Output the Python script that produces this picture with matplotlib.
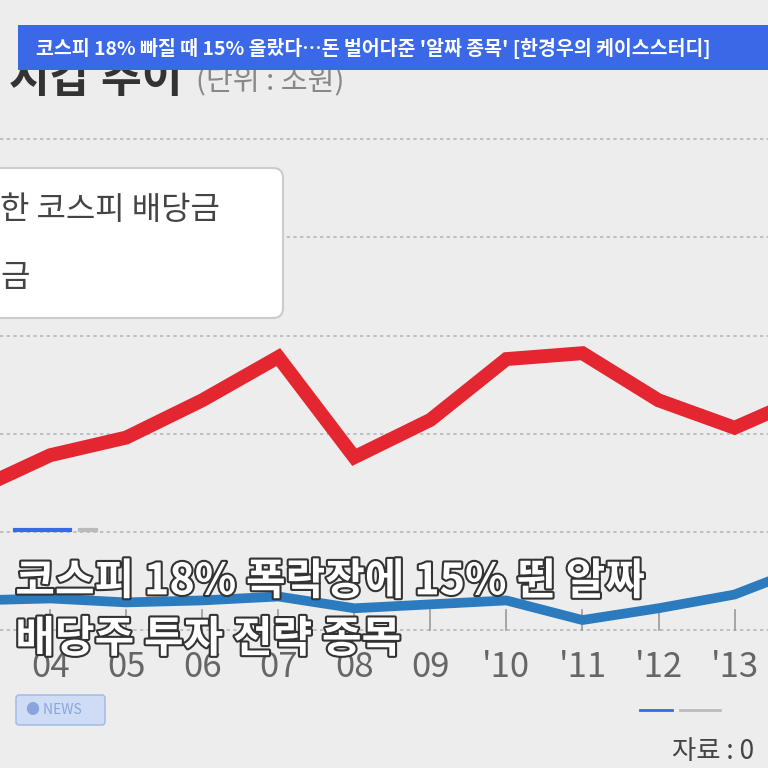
import matplotlib
matplotlib.use("Agg")
import matplotlib.pyplot as plt
import matplotlib.patheffects as pe
from matplotlib.patches import FancyBboxPatch, Rectangle

plt.rcParams['font.family'] = ['Noto Sans CJK KR', 'DejaVu Sans']

years = [2003, 2004, 2005, 2006, 2007, 2008, 2009, 2010, 2011, 2012, 2013, 2014]
tick_years = [2004, 2005, 2006, 2007, 2008, 2009, 2010, 2011, 2012, 2013]
tick_labels = ["04", "05", "06", "07", "08", "09", "'10", "'11", "'12", "'13"]
dividend_red = [7.1, 8.9, 9.8, 11.7, 13.9, 8.8, 10.7, 13.8, 14.1, 11.7, 10.3, 12.0]
dividend_blue = [1.5, 1.6, 1.4, 1.5, 1.7, 1.1, 1.3, 1.5, 0.5, 1.1, 1.8, 3.3]
grid_levels = [0, 5, 10, 15, 20, 25]

banner = "코스피 18% 빠질 때 15% 올랐다…돈 벌어다준 '알짜 종목' [한경우의 케이스스터디]"
headline = ["코스피 18% 폭락장에 15% 뛴 알짜", "배당주 투자 전략 종목"]

fig = plt.figure(figsize=(7.68, 7.68), dpi=100)
fig.patch.set_facecolor('#ededed')
ax = fig.add_axes([0, 0, 1, 1])
ax.set_facecolor('#ededed')
ax.set_xlim(2003.34, 2013.44)
ax.set_ylim(-7.04, 32.1)
ax.axis('off')

for g in grid_levels:
    ax.axhline(g, color='#b8b8b8', lw=1.2, ls=(0, (2, 2)), zorder=1)
for t in tick_years:
    ax.plot([t, t], [0, 1.0], color='#999999', lw=1.2, zorder=1)
for t, lab in zip(tick_years, tick_labels):
    ax.text(t, -1.9, lab, ha='center', va='center', fontsize=25, color='#666666', zorder=2)

ax.plot(years, dividend_red, color='#e3262f', lw=10, solid_joinstyle='miter', zorder=3)
ax.plot(years, dividend_blue, color='#2c7bbf', lw=7, zorder=3)

# cut chart title
fig.text(0.012, 0.897, "시갑 추이", fontsize=32, fontweight='bold', color='#333333', va='center')
fig.text(0.255, 0.893, "(단위 : 조원)", fontsize=21, color='#888888', va='center')

# legend box
fig.patches.append(FancyBboxPatch((-20, 450), 303, 150, boxstyle="round,pad=0,rounding_size=10",
                                  transform=None, fc='white', ec='#cccccc', lw=1.5, zorder=4))
fig.text(0.0, 0.727, "한 코스피 배당금", fontsize=23, color='#444444', va='center', zorder=5)
fig.text(0.0, 0.638, "금", fontsize=23, color='#444444', va='center', zorder=5)

# banner
fig.patches.append(Rectangle((18, 698), 760, 45, transform=None, fc='#3b68e6', ec='none', zorder=6))
fig.text(0.047, 0.937, banner, fontsize=14, fontweight='bold', color='white', va='center', zorder=7)

# headline
for i, line in enumerate(headline):
    fig.text(0.02, 0.243 - i * 0.075, line, fontsize=31, fontweight='bold', color='white', va='center',
             zorder=8, path_effects=[pe.withStroke(linewidth=3, foreground='#333333')])

# indicators
fig.add_artist(plt.Line2D([15 / 768, 70 / 768], [238 / 768, 238 / 768], color='#3b68e6', lw=3, zorder=8))
fig.add_artist(plt.Line2D([80 / 768, 96 / 768], [238 / 768, 238 / 768], color='#bbbbbb', lw=3, zorder=8))
fig.add_artist(plt.Line2D([640 / 768, 672 / 768], [58 / 768, 58 / 768], color='#3b68e6', lw=2, zorder=8))
fig.add_artist(plt.Line2D([680 / 768, 720 / 768], [58 / 768, 58 / 768], color='#bbbbbb', lw=2, zorder=8))

# NEWS badge
fig.patches.append(FancyBboxPatch((16, 43), 89, 30, boxstyle="round,pad=0,rounding_size=3", transform=None,
                                  fc='#cfdcf5', ec='#9fb6e6', lw=1, zorder=8))
fig.text(26 / 768, 58 / 768, "● NEWS", fontsize=10, color='#8aa4dd', va='center', zorder=9)

fig.text(0.875, 0.022, "자료 : 0", fontsize=19, color='#444444', va='center')

fig.savefig("out.png", dpi=100)
